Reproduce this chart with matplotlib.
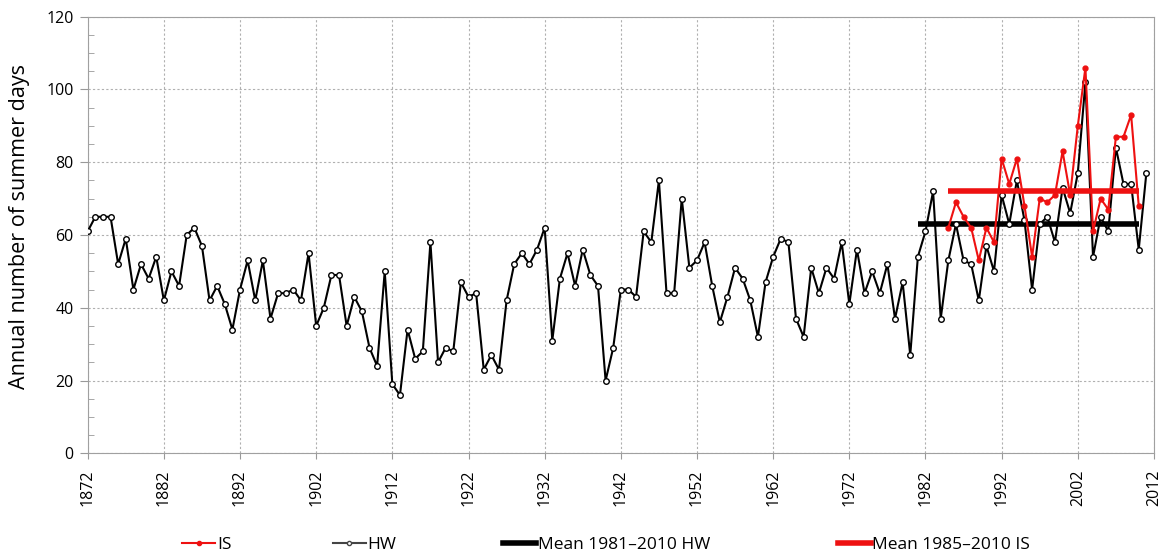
import numpy as np
import matplotlib.pyplot as plt
from matplotlib.ticker import MultipleLocator
from matplotlib.lines import Line2D

plt.rcParams['font.family'] = ['Open Sans', 'DejaVu Sans']

# HW series 1872-2011
hw_years = np.arange(1872, 2012)
hw_values = [
    61, 65, 65, 65, 52, 59, 45, 52, 48, 54,   # 1872-1881
    42, 50, 46, 60, 62, 57, 42, 46, 41, 34,   # 1882-1891
    45, 53, 42, 53, 37, 44, 44, 45, 42, 55,   # 1892-1901
    35, 40, 49, 49, 35, 43, 39, 29, 24, 50,   # 1902-1911
    19, 16, 34, 26, 28, 58, 25, 29, 28, 47,   # 1912-1921
    43, 44, 23, 27, 23, 42, 52, 55, 52, 56,   # 1922-1931
    62, 31, 48, 55, 46, 56, 49, 46, 20, 29,   # 1932-1941
    45, 45, 43, 61, 58, 75, 44, 44, 70, 51,   # 1942-1951
    53, 58, 46, 36, 43, 51, 48, 42, 32, 47,   # 1952-1961
    54, 59, 58, 37, 32, 51, 44, 51, 48, 58,   # 1962-1971
    41, 56, 44, 50, 44, 52, 37, 47, 27, 54,   # 1972-1981
    61, 72, 37, 53, 63, 53, 52, 42, 57, 50,   # 1982-1991
    71, 63, 75, 64, 45, 63, 65, 58, 73, 66,   # 1992-2001
    77, 102, 54, 65, 61, 84, 74, 74, 56, 77,  # 2002-2011
]

# IS series 1985-2010
is_years = np.arange(1985, 2011)
is_values = [
    62, 69, 65, 62, 53, 62, 58, 81, 74, 81,
    68, 54, 70, 69, 71, 83, 71, 90, 106, 61,
    70, 67, 87, 87, 93, 68,
]

mean_hw_span = (1981, 2010)
mean_hw = 63
mean_is_span = (1985, 2010)
mean_is = 72

fig = plt.figure(figsize=(11.6, 5.57), dpi=100)
ax = fig.add_axes([0.0756, 0.1862, 0.9192, 0.7838])

red = '#ee1111'

ax.plot(mean_hw_span, [mean_hw, mean_hw], color='black', lw=4, solid_capstyle='butt', zorder=3)
ax.plot(hw_years, hw_values, color='black', lw=1.5, marker='o', ms=4,
        mfc='white', mec='black', mew=1.0, zorder=4)
ax.plot(is_years, is_values, color=red, lw=1.5, marker='o', ms=3.5,
        mfc=red, mec=red, zorder=5)
ax.plot(mean_is_span, [mean_is, mean_is], color=red, lw=4, solid_capstyle='butt', zorder=6)

ax.set_xlim(1872, 2012)
ax.set_ylim(0, 120)
ax.set_xticks(np.arange(1872, 2013, 10))
ax.yaxis.set_major_locator(MultipleLocator(20))
ax.yaxis.set_minor_locator(MultipleLocator(5))
ax.tick_params(axis='x', labelrotation=90, labelsize=11.5, length=4, pad=8, color='#999999')
ax.tick_params(axis='y', which='major', labelsize=11.5, length=6, pad=4, color='#999999')
ax.tick_params(axis='y', which='minor', direction='in', length=4, color='#999999')
ax.grid(True, which='major', color='#b0b0b0', linestyle=(0, (2, 2)), lw=0.8)
for s in ax.spines.values():
    s.set_color('#a0a0a0')
ax.set_ylabel('Annual number of summer days', fontsize=15.5)
ax.yaxis.set_label_coords(-0.054, 0.52)

# legend entries, placed one by one like the original
entries = [
    (Line2D([], [], color=red, lw=1.5, marker='o', ms=3, mfc=red, mec=red), 'IS', 0.157),
    (Line2D([], [], color='#444444', lw=1.5, marker='o', ms=3, mfc='white', mec='#444444'), 'HW', 0.287),
    (Line2D([], [], color='black', lw=4), 'Mean 1981\u20132010 HW', 0.434),
    (Line2D([], [], color=red, lw=4), 'Mean 1985\u20132010 IS', 0.722),
]
for h, lab, x in entries:
    fig.legend([h], [lab], loc='center left', bbox_to_anchor=(x, 0.022), frameon=False,
               fontsize=12.5, handlelength=1.9, handletextpad=0.1, borderpad=0, borderaxespad=0)

fig.savefig('out.png', dpi=100)
